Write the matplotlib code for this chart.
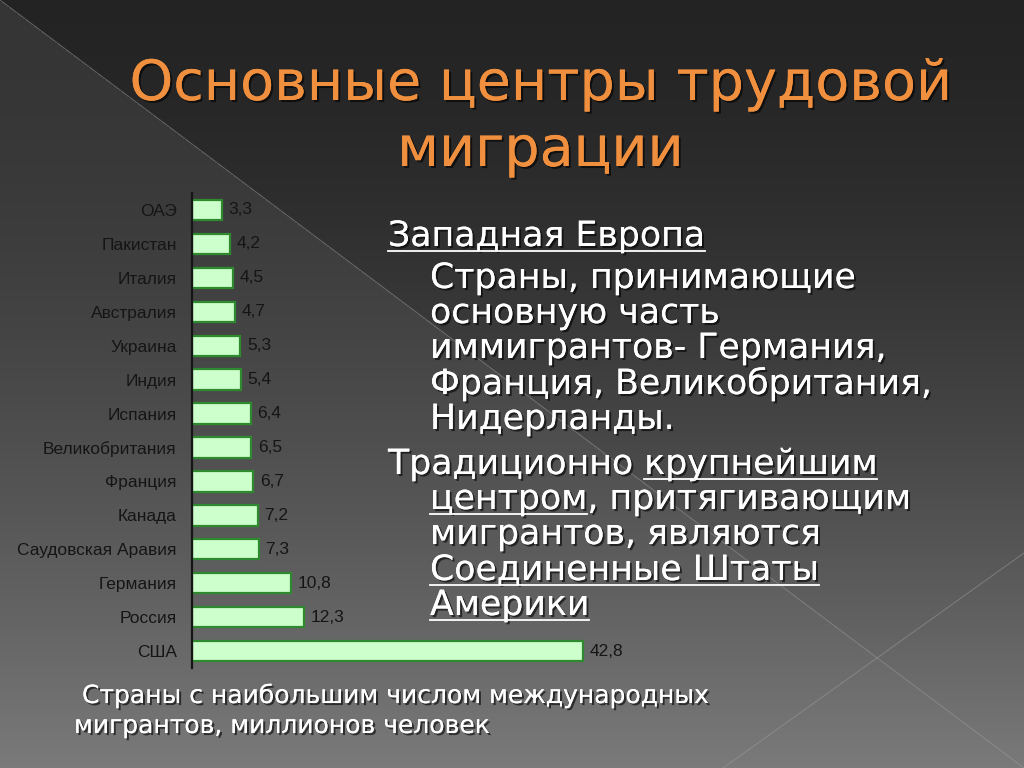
import matplotlib
matplotlib.use('Agg')
import matplotlib.pyplot as plt
import matplotlib.patheffects as pe
import numpy as np

# chart data, top row first
countries = ['ОАЭ', 'Пакистан', 'Италия', 'Австралия', 'Украина', 'Индия', 'Испания',
             'Великобритания', 'Франция', 'Канада', 'Саудовская Аравия', 'Германия',
             'Россия', 'США']
migrants = [3.3, 4.2, 4.5, 4.7, 5.3, 5.4, 6.4, 6.5, 6.7, 7.2, 7.3, 10.8, 12.3, 42.8]

title_lines = ['Основные центры трудовой', 'миграции']
caption_lines = ['Страны с наибольшим числом международных',
                 'мигрантов, миллионов человек']
# (x, baseline, [(piece, underlined)])
body_lines = [
    (388, 246, [('Западная Европа', True)]),
    (430, 288, [('Страны, принимающие', False)]),
    (430, 323, [('основную часть', False)]),
    (430, 358, [('иммигрантов- Германия,', False)]),
    (430, 394, [('Франция, Великобритания,', False)]),
    (430, 429, [('Нидерланды.', False)]),
    (388, 474, [('Традиционно ', False), ('крупнейшим', True)]),
    (430, 509, [('центром', True), (', притягивающим', False)]),
    (430, 544, [('мигрантов, являются', False)]),
    (430, 580, [('Соединенные Штаты', True)]),
    (430, 615, [('Америки', True)]),
]

W, H = 1024, 768
fig = plt.figure(figsize=(W / 100, H / 100), dpi=100)

# background: dark slide with gradient and a lighter lower-left triangle
bg = fig.add_axes([0, 0, 1, 1])
bg.set_xlim(0, W)
bg.set_ylim(H, 0)
bg.axis('off')
yy, xx = np.mgrid[0:H:2, 0:W:2]
t = yy / H
shade = 0.14 + (0.48 - 0.14) * t ** 1.6
shade = shade + np.where(yy > 0.75 * xx, 0.07 * (1 - t), 0.0)
bg.imshow(np.dstack([shade] * 3), extent=(0, W, H, 0), aspect='auto', zorder=0)
bg.plot([0, W], [0, H], color='#a0a0a0', lw=0.7, alpha=0.5, zorder=1)
bg.plot([723, W], [H, 553], color='#a0a0a0', lw=0.7, alpha=0.5, zorder=1)

shadow = [pe.withSimplePatchShadow(offset=(1.5, -1.5), shadow_rgbFace='black', alpha=0.6),
          pe.Normal()]

# title
bg.text(540, 100, title_lines[0], ha='center', va='baseline', fontsize=40,
        color='#f0903f', path_effects=shadow, zorder=3)
bg.text(540, 166, title_lines[1], ha='center', va='baseline', fontsize=40,
        color='#f0903f', path_effects=shadow, zorder=3)

fig.canvas.draw()
renderer = fig.canvas.get_renderer()


def text_width(s, size):
    tmp = bg.text(0, 0, s, fontsize=size)
    w = tmp.get_window_extent(renderer).width
    tmp.remove()
    return w


body_size = 25
for x, y, pieces in body_lines:
    line = ''.join(p for p, _ in pieces)
    bg.text(x, y, line, ha='left', va='baseline', fontsize=body_size, color='white',
            path_effects=shadow, zorder=3)
    prefix = ''
    for piece, under in pieces:
        if under:
            end = text_width(prefix + piece, body_size)
            start = end - text_width(piece, body_size)
            bg.plot([x + start, x + end], [y + 5, y + 5], color='white', lw=1.3, zorder=3)
        prefix += piece

bg.text(82, 703, caption_lines[0], ha='left', va='baseline', fontsize=18, color='white',
        path_effects=shadow, zorder=3)
bg.text(74, 733, caption_lines[1], ha='left', va='baseline', fontsize=18, color='white',
        path_effects=shadow, zorder=3)

# bar chart
ax = fig.add_axes([192 / W, 1 - 668 / H, 428 / W, 475 / H])
ax.patch.set_alpha(0)
pos = np.arange(len(countries))
ax.barh(pos, migrants, height=0.6, color='#ccffcc', edgecolor='#2f8a2f', linewidth=1.6)
ax.set_ylim(len(countries) - 0.5, -0.5)
ax.set_xlim(0, 46.8)
narrow = ['Liberation Sans Narrow', 'Liberation Sans', 'DejaVu Sans']
ax.set_yticks(pos, countries, family=narrow)
ax.set_xticks([])
ax.tick_params(axis='y', length=0, pad=11, labelsize=12.5, labelcolor='#151515')
for side in ['top', 'right', 'bottom']:
    ax.spines[side].set_visible(False)
ax.spines['left'].set_color('#151515')
ax.spines['left'].set_linewidth(1.6)
for i, v in enumerate(migrants):
    ax.text(v + 0.7, i, f'{v:.1f}'.replace('.', ','), va='center', ha='left', fontsize=12.5,
            color='#151515', family=narrow, clip_on=False)

fig.savefig('out.png', dpi=100)
